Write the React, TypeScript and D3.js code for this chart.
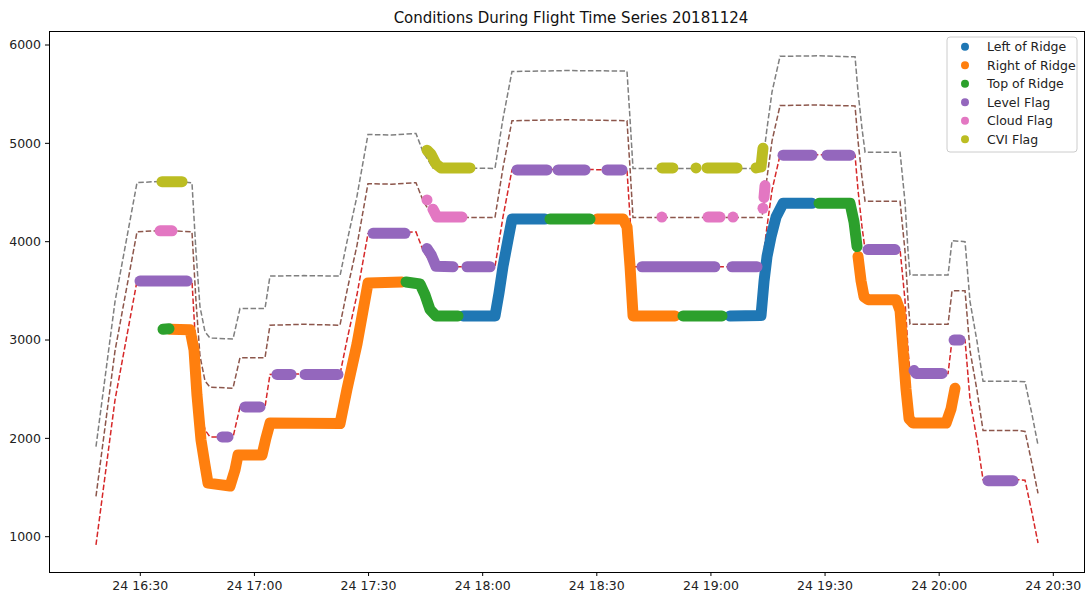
import React from 'react';
import * as d3 from 'd3';

// ---------- data ----------
const DAY = '2018-11-24';
const TITLE = 'Conditions During Flight Time Series 20181124';

const TIMES = [
  '16:18:21', '16:23:21', '16:29:08', '16:36:00', '16:43:35', '16:44:38', '16:45:41', '16:47:00',
  '16:48:19', '16:54:22', '16:56:12', '17:02:47', '17:04:05', '17:13:00', '17:22:29', '17:24:20',
  '17:26:57', '17:29:51', '17:36:00', '17:42:28', '17:44:18', '17:46:56', '18:03:14', '18:05:20',
  '18:07:42', '18:22:00', '18:37:56', '18:38:44', '18:39:31', '19:13:26', '19:14:44', '19:16:04',
  '19:18:10', '19:28:00', '19:37:53', '19:38:40', '19:39:43', '19:40:31', '19:49:43', '19:51:01',
  '19:51:49', '19:52:20', '20:02:20', '20:03:23', '20:06:48', '20:08:07', '20:09:57', '20:11:32',
  '20:20:44', '20:22:34', '20:24:25', '20:25:59',
];
const ALTITUDE = [
  916, 2390, 3600, 3610, 3600, 2900, 2340, 2085,
  2015, 2010, 2320, 2320, 2650, 2655, 2650, 3000,
  3460, 4080, 4085, 4100, 3915, 3745, 3745, 4250,
  4730, 4735, 4730, 4250, 3745, 3745, 4150, 4525,
  4880, 4885, 4880, 4525, 4150, 3920, 3920, 3405,
  2900, 2660, 2660, 3000, 3000, 2390, 1985, 1580,
  1580, 1575, 1240, 936,
];
const ALT_PLUS_500 = [
  1410, 2890, 4100, 4115, 4100, 3400, 2840, 2585,
  2520, 2510, 2820, 2820, 3150, 3160, 3150, 3500,
  3960, 4590, 4585, 4600, 4420, 4250, 4245, 4750,
  5230, 5240, 5230, 4750, 4245, 4245, 4650, 5025,
  5385, 5390, 5380, 5025, 4650, 4410, 4410, 3905,
  3400, 3160, 3160, 3500, 3500, 2890, 2485, 2080,
  2080, 2070, 1740, 1440,
];
const ALT_PLUS_1000 = [
  1915, 3390, 4600, 4615, 4600, 3900, 3340, 3085,
  3020, 3010, 3320, 3320, 3650, 3655, 3650, 4000,
  4460, 5090, 5085, 5100, 4915, 4750, 4745, 5250,
  5730, 5740, 5735, 5250, 4745, 4745, 5150, 5525,
  5885, 5890, 5880, 5525, 5150, 4910, 4910, 4405,
  3900, 3660, 3660, 4010, 4000, 3390, 2985, 2580,
  2580, 2575, 2240, 1930,
];

type Pt = [string, number];

const LEFT_OF_RIDGE: Pt[][] = [
  [['17:54:50', 3245], ['18:03:15', 3245], ['18:04:18', 3480], ['18:05:21', 3750], ['18:06:40', 4020], ['18:07:43', 4230], ['18:16:23', 4230]],
  [['19:05:01', 3245], ['19:13:10', 3250], ['19:13:58', 3600], ['19:14:45', 3850], ['19:15:48', 4050], ['19:17:07', 4250], ['19:18:58', 4390], ['19:26:35', 4390]],
];
const RIGHT_OF_RIDGE: Pt[][] = [
  [['16:37:49', 3110], ['16:43:04', 3105], ['16:44:07', 2900], ['16:44:54', 2440], ['16:45:57', 1985], ['16:47:00', 1730],
   ['16:47:48', 1545], ['16:53:35', 1515], ['16:54:54', 1680], ['16:55:41', 1830], ['17:02:00', 1830], ['17:03:03', 2005],
   ['17:04:06', 2155], ['17:22:30', 2150], ['17:24:20', 2500], ['17:26:58', 2960], ['17:29:52', 3580], ['17:38:48', 3590]],
  [['18:30:04', 4230], ['18:36:54', 4230], ['18:37:57', 4150], ['18:38:44', 3750], ['18:39:32', 3245], ['18:50:34', 3245]],
  [['19:38:40', 3850], ['19:39:28', 3600], ['19:40:15', 3440], ['19:41:18', 3410], ['19:48:40', 3410], ['19:49:43', 3300],
   ['19:50:30', 2900], ['19:51:17', 2500], ['19:52:05', 2200], ['19:53:08', 2155], ['20:01:49', 2155], ['20:03:07', 2300], ['20:04:10', 2510]],
];
const TOP_OF_RIDGE: Pt[][] = [
  [['16:35:58', 3110], ['16:37:33', 3115]],
  [['17:39:51', 3590], ['17:43:32', 3570], ['17:44:50', 3460], ['17:46:09', 3310], ['17:47:44', 3245], ['17:53:31', 3245]],
  [['18:17:42', 4230], ['18:28:13', 4230]],
  [['18:52:40', 3245], ['19:02:55', 3245]],
  [['19:28:25', 4390], ['19:36:34', 4390], ['19:37:37', 4200], ['19:38:25', 3950]],
];
const LEVEL_FLAG: Pt[][] = [
  [['16:29:55', 3600], ['16:42:17', 3600]],
  [['16:51:29', 2015], ['16:53:03', 2015]],
  [['16:57:31', 2320], ['17:01:28', 2320]],
  [['17:05:56', 2650], ['17:09:37', 2650]],
  [['17:13:18', 2650], ['17:21:58', 2650]],
  [['17:31:10', 4085], ['17:39:35', 4085]],
  [['17:45:22', 3930], ['17:46:25', 3870], ['17:47:44', 3750], ['17:52:13', 3745]],
  [['17:55:53', 3745], ['18:01:56', 3745]],
  [['18:09:02', 4730], ['18:16:55', 4730]],
  [['18:19:49', 4730], ['18:26:55', 4730]],
  [['18:32:41', 4730], ['18:36:38', 4730]],
  [['18:41:53', 3745], ['19:01:01', 3745]],
  [['19:05:33', 3745], ['19:12:07', 3745]],
  [['19:18:57', 4880], ['19:26:35', 4880]],
  [['19:30:31', 4880], ['19:36:34', 4880]],
  [['19:41:18', 3920], ['19:48:24', 3920]],
  [['19:53:23', 2690], ['19:53:55', 2660], ['20:00:46', 2660]],
  [['20:03:55', 3000], ['20:05:29', 3000]],
  [['20:12:50', 1570], ['20:19:25', 1570]],
];
const CLOUD_FLAG: Pt[][] = [
  [['16:35:11', 4110], ['16:38:20', 4110]],
  [['17:45:22', 4425]],
  [['17:46:56', 4330], ['17:47:59', 4250], ['17:54:34', 4250]],
  [['18:47:06', 4250]],
  [['18:59:14', 4250], ['19:02:23', 4250]],
  [['19:05:48', 4250]],
  [['19:13:41', 4340]],
  [['19:13:57', 4450], ['19:14:13', 4570]],
];
const CVI_FLAG: Pt[][] = [
  [['16:35:42', 4610], ['16:40:58', 4610]],
  [['17:45:22', 4930], ['17:46:25', 4890], ['17:47:44', 4790], ['17:49:03', 4750], ['17:56:40', 4750]],
  [['18:47:06', 4750], ['18:50:00', 4750]],
  [['18:56:05', 4750]],
  [['18:58:58', 4750], ['19:06:52', 4750]],
  [['19:11:52', 4750], ['19:13:10', 4760], ['19:13:41', 4950]],
];

const X_TICKS = ['16:30', '17:00', '17:30', '18:00', '18:30', '19:00', '19:30', '20:00', '20:30'];
const Y_TICKS = [1000, 2000, 3000, 4000, 5000, 6000];

const SERIES = [
  { name: 'Left of Ridge', color: '#1f77b4', segs: LEFT_OF_RIDGE },
  { name: 'Right of Ridge', color: '#ff7f0e', segs: RIGHT_OF_RIDGE },
  { name: 'Top of Ridge', color: '#2ca02c', segs: TOP_OF_RIDGE },
  { name: 'Level Flag', color: '#9467bd', segs: LEVEL_FLAG },
  { name: 'Cloud Flag', color: '#e377c2', segs: CLOUD_FLAG },
  { name: 'CVI Flag', color: '#bcbd22', segs: CVI_FLAG },
];

const LINES = [
  { values: ALT_PLUS_1000, color: '#7f7f7f' },
  { values: ALT_PLUS_500, color: '#8c564b' },
  { values: ALTITUDE, color: '#d62728' },
];

// ---------- layout ----------
const W = 1090;
const H = 592;
const AX = { left: 49, right: 1084, top: 31, bottom: 572 };
const FONT = '"DejaVu Sans", sans-serif';
const BAND = 11;

const parse = d3.timeParse('%Y-%m-%d %H:%M:%S');
const tm = (s: string) => parse(`${DAY} ${s.length === 5 ? s + ':00' : s}`) as Date;

export default function App() {
  const x = d3.scaleTime().domain([tm('16:30'), tm('20:30')]).range([140.3, 1053.3]);
  const y = d3.scaleLinear().domain([1000, 6000]).range([536.7, 45]);
  const fmt = d3.timeFormat('%d %H:%M');

  const line = d3
    .line<Pt>()
    .x((d) => x(tm(d[0])))
    .y((d) => y(d[1]));

  return (
    <svg width={W} height={H} style={{ position: 'absolute', left: 0, top: 0, background: '#fff' }} fontFamily={FONT}>
      <defs>
        <clipPath id="plot">
          <rect x={AX.left} y={AX.top} width={AX.right - AX.left} height={AX.bottom - AX.top} />
        </clipPath>
      </defs>
      <rect x={0} y={0} width={W} height={H} fill="#fff" />

      <g clipPath="url(#plot)">
        {LINES.map((l, i) => (
          <path
            key={i}
            d={line(TIMES.map((tt, j) => [tt, l.values[j]] as Pt)) || ''}
            fill="none"
            stroke={l.color}
            strokeWidth={1.5}
            strokeDasharray="5.5 2.4"
          />
        ))}
        {SERIES.map((s) => (
          <g key={s.name}>
            {s.segs.map((seg, k) =>
              seg.length === 1 ? (
                <circle key={k} cx={x(tm(seg[0][0]))} cy={y(seg[0][1])} r={BAND / 2} fill={s.color} />
              ) : (
                <path
                  key={k}
                  d={line(seg) || ''}
                  fill="none"
                  stroke={s.color}
                  strokeWidth={BAND}
                  strokeLinecap="round"
                  strokeLinejoin="round"
                />
              )
            )}
          </g>
        ))}
      </g>

      {/* axes frame */}
      <rect
        x={AX.left}
        y={AX.top}
        width={AX.right - AX.left}
        height={AX.bottom - AX.top}
        fill="none"
        stroke="#000"
        strokeWidth={1}
        shapeRendering="crispEdges"
      />

      {/* x ticks */}
      {X_TICKS.map((tk) => {
        const px = x(tm(tk));
        return (
          <g key={tk}>
            <line x1={px} x2={px} y1={AX.bottom} y2={AX.bottom + 4} stroke="#000" strokeWidth={1} />
            <text x={px} y={590} textAnchor="middle" fontSize={12.5} fill="#222">
              {fmt(tm(tk))}
            </text>
          </g>
        );
      })}

      {/* y ticks */}
      {Y_TICKS.map((v) => {
        const py = y(v);
        return (
          <g key={v}>
            <line x1={AX.left - 4} x2={AX.left} y1={py} y2={py} stroke="#000" strokeWidth={1} />
            <text x={AX.left - 8} y={py} dy="0.35em" textAnchor="end" fontSize={12.5} fill="#222">
              {v}
            </text>
          </g>
        );
      })}

      {/* title */}
      <text x={571} y={23} textAnchor="middle" fontSize={15} fill="#111">
        {TITLE}
      </text>

      {/* legend */}
      <g>
        <rect x={947} y={37} width={130} height={115} rx={3} fill="#fff" fillOpacity={0.8} stroke="#ccc" />
        {SERIES.map((s, i) => (
          <g key={s.name} transform={`translate(0, ${46.7 + i * 18.5})`}>
            <circle cx={965} cy={0} r={4} fill={s.color} />
            <text x={987} y={0} dy="0.35em" fontSize={12.5} fill="#222">
              {s.name}
            </text>
          </g>
        ))}
      </g>
    </svg>
  );
}
